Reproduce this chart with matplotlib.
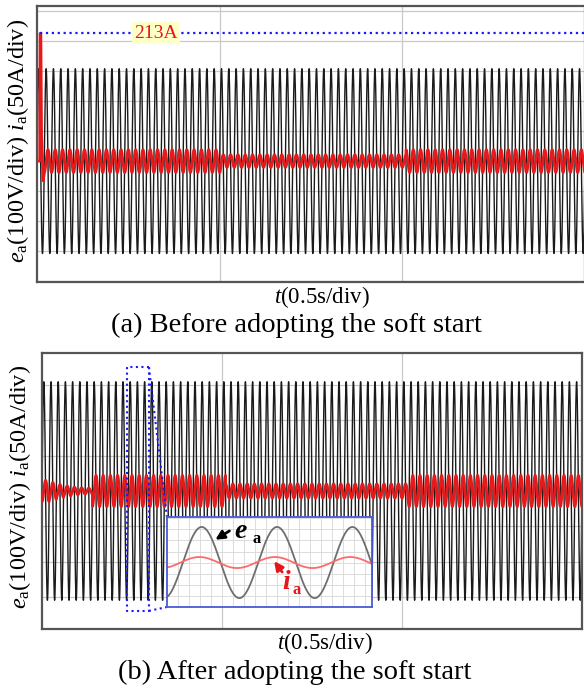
import numpy as np
import matplotlib.pyplot as plt

plt.rcParams['font.family'] = ['Liberation Serif', 'DejaVu Serif']
plt.rcParams['mathtext.fontset'] = 'custom'
plt.rcParams['mathtext.rm'] = 'Liberation Serif'
plt.rcParams['mathtext.it'] = 'Liberation Serif:italic'

# grid voltage
F_HZ = 50
V_PEAK = 308.0          # V

# (a) before soft start: inrush spike, then steady current
spike_t = [0.0, 0.0075, 0.0085, 0.0105, 0.0125, 0.017, 0.02]
spike_i = [0.0, 0.0, 213.0, 213.0, 40.0, -33.0, -20.0]
cur_a_edges = [0.02, 0.505, 1.01, 1.5]
cur_a_amp = [19.0, 10.5, 19.0]
I_MAX = 213.0

# (b) after soft start: per-cycle amplitude of the start-up, then steady
soft_amp = [15.0, 12.0, 9.0, 7.0, 5.5, 4.5, 4.0]
cur_b_edges = [0.14, 0.51, 1.015, 1.5]
cur_b_amp = [22.0, 10.0, 22.0]

# zoomed inset (normalised to e_a peak)
inset_cycles = 2.72
inset_e_peak = 0.46
inset_i_peak = 0.43
inset_i_amp = 0.155

T_END = 1.5
t = np.arange(0, T_END, 1 / (F_HZ * 160))
w = 2 * np.pi * F_HZ
v = V_PEAK * np.sin(w * t)


def steady(edges, amps):
    tt, ii = [], []
    for k in range(len(amps)):
        seg = t[(t >= edges[k]) & (t < edges[k + 1])]
        tt.append(seg)
        ii.append(-amps[k] * np.cos(w * seg))
    return np.concatenate(tt), np.concatenate(ii)


ta, ia = steady(cur_a_edges, cur_a_amp)
ta = np.concatenate([spike_t, ta])
ia = np.concatenate([spike_i, ia])

tb0 = t[t < cur_b_edges[0]]
cyc = np.minimum((tb0 * F_HZ).astype(int), len(soft_amp) - 1)
ib0 = -np.array(soft_amp)[cyc] * np.cos(w * tb0)
tb1, ib1 = steady(cur_b_edges, cur_b_amp)
tb = np.concatenate([tb0, tb1])
ib = np.concatenate([ib0, ib1])

W, H = 584, 691
fig = plt.figure(figsize=(W / 100, H / 100), dpi=100)


def px_axes(l, top, r, b):
    return fig.add_axes([l / W, 1 - b / H, (r - l) / W, (b - top) / H])


def style(ax, ylim):
    ax.set_xlim(0, T_END)
    ax.set_ylim(*ylim)
    ax.set_xticks([0.5, 1.0])
    ax.set_yticks(np.arange(np.ceil(ylim[0]), ylim[1], 1.0))
    ax.tick_params(length=0, labelbottom=False, labelleft=False)
    ax.grid(True, color='#c8c8c8', lw=0.9)
    ax.set_axisbelow(True)
    for s in ax.spines.values():
        s.set_color('#555555')
        s.set_linewidth(1.6)


ax_a = px_axes(37, 6, 585, 282)
ax_b = px_axes(42, 353, 582, 629)
style(ax_a, (-4.03, 5.17))
style(ax_b, (-3.89, 3.89))

for ax, tc, ic in [(ax_a, ta, ia), (ax_b, tb, ib)]:
    ax.plot(t, v / 100, color='#1a1a1a', lw=1.0, zorder=2)
    ax.plot(tc, ic / 50, color='#e41a1c', lw=2.0, zorder=3)

# 213 A marker
ax_a.plot([0.009, T_END], [I_MAX / 50] * 2, color='#1a1aff', ls=':', lw=1.6, zorder=4)
ax_a.text(0.325, I_MAX / 50, '213A', color='#e8141c', fontsize=14,
          ha='center', va='center', zorder=5,
          bbox=dict(boxstyle='square,pad=0.12', fc='#ffffc8', ec='none'))

# dotted zoom frame
zk = dict(color='#1a1aff', ls=':', lw=1.5, zorder=4, clip_on=False)
ax_b.plot([0.297, 0.236, 0.236, 0.297, 0.297], [3.49, 3.49, -3.38, -3.38, 3.49], **zk)
ax_b.plot([0.297, 0.347], [3.49, -0.73], **zk)
ax_b.plot([0.297, 0.347], [-3.38, -3.27], **zk)

# inset
ax_in = px_axes(167, 517, 372, 607)
c = np.linspace(0, inset_cycles, 600)
ax_in.plot(c, np.cos(2 * np.pi * (c - inset_e_peak)), color='#6e6e6e', lw=1.3)
ax_in.plot(c, inset_i_amp * np.cos(2 * np.pi * (c - inset_i_peak)), color='#ff6a6a', lw=1.3)
ax_in.set_xlim(0, inset_cycles)
ax_in.set_ylim(-1.25, 1.28)
ax_in.set_xticks(np.arange(0.146, inset_cycles, 0.1457))
ax_in.set_yticks(np.arange(-1.24, 1.28, 0.31))
ax_in.tick_params(length=0, labelbottom=False, labelleft=False)
ax_in.grid(True, color='#dcdcdc', lw=0.7)
for s in ax_in.spines.values():
    s.set_color('#4a5ad8')
    s.set_linewidth(1.3)

ax_in.annotate('', xy=(0.61, 0.60), xytext=(0.86, 0.93),
               arrowprops=dict(arrowstyle='-|>', color='k', lw=2.0, mutation_scale=13))
ax_in.text(0.90, 0.86, 'e', fontsize=20, style='italic', weight='bold', color='k',
           ha='left', va='center')
ax_in.text(1.13, 0.66, 'a', fontsize=12, weight='bold', color='k', ha='left', va='center')
ax_in.annotate('', xy=(1.40, 0.10), xytext=(1.55, -0.33),
               arrowprops=dict(arrowstyle='-|>', color='#e8141c', lw=2.0, mutation_scale=13))
ax_in.text(1.53, -0.57, 'i', fontsize=20, style='italic', weight='bold', color='#e8141c',
           ha='left', va='center')
ax_in.text(1.66, -0.76, 'a', fontsize=12, weight='bold', color='#e8141c',
           ha='left', va='center')

# labels
ylab = r'$e_\mathrm{a}$(100V/div) $i_\mathrm{a}$(50A/div)'
fig.text(18 / W, 1 - 141 / H, ylab, rotation=90, ha='center', va='center', fontsize=17.5)
fig.text(20 / W, 1 - 487 / H, ylab, rotation=90, ha='center', va='center', fontsize=17.5)
fig.text(322 / W, 1 - 297 / H, r'$t$(0.5s/div)', ha='center', va='center', fontsize=16.5)
fig.text(325 / W, 1 - 643 / H, r'$t$(0.5s/div)', ha='center', va='center', fontsize=16.5)
fig.text(296 / W, 1 - 325 / H, '(a) Before adopting the soft start', ha='center',
         va='center', fontsize=20.5)
fig.text(295 / W, 1 - 672 / H, '(b) After adopting the soft start', ha='center',
         va='center', fontsize=20.5)

fig.savefig('out.png', dpi=100)
